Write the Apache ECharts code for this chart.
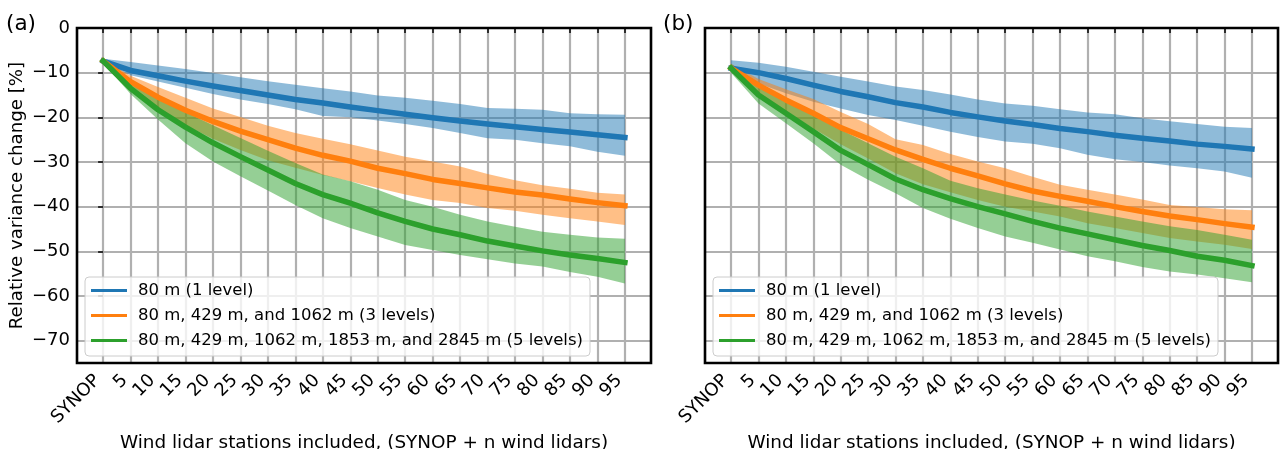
<!DOCTYPE html>
<html>
<head>
<meta charset="utf-8">
<script src="https://cdn.jsdelivr.net/npm/echarts@6/dist/echarts.min.js"></script>
<style>
  html, body { margin: 0; padding: 0; background: #fff; }
  #chart { width: 1280px; height: 449px; }
</style>
</head>
<body>
<div id="chart"></div>
<script>
// x categories and y ticks
const categories = ['SYNOP', '5', '10', '15', '20', '25', '30', '35', '40', '45',
  '50', '55', '60', '65', '70', '75', '80', '85', '90', '95'];
const yTicks = [-70, -60, -50, -40, -30, -20, -10, 0];
const legendNames = [
  '80 m (1 level)',
  '80 m, 429 m, and 1062 m (3 levels)',
  '80 m, 429 m, 1062 m, 1853 m, and 2845 m (5 levels)',
];

// panel (a): mean line, upper and lower band edges
const aBlue = [-7.4, -9.5, -10.7, -11.9, -13.0, -14.0, -15.0, -16.0, -16.8, -17.7, -18.5, -19.3, -20.1, -20.8, -21.5, -22.1, -22.7, -23.3, -23.9, -24.5];
const aBlueHi = [-6.9, -7.6, -8.4, -9.2, -10.1, -11.0, -11.9, -12.7, -13.5, -14.2, -15.1, -15.6, -16.3, -17.0, -17.9, -18.1, -18.3, -19.1, -19.3, -19.4];
const aBlueLo = [-7.9, -10.6, -12.0, -13.4, -14.8, -16.0, -17.0, -18.2, -19.7, -20.0, -20.7, -21.5, -22.4, -23.5, -24.7, -25.0, -25.8, -26.5, -27.7, -28.6];
const aOrange = [-7.4, -12.0, -15.5, -18.4, -20.9, -23.1, -25.0, -26.9, -28.5, -29.8, -31.4, -32.6, -33.9, -34.8, -35.8, -36.7, -37.4, -38.3, -39.1, -39.8];
const aOrangeHi = [-7.0, -10.7, -13.2, -15.6, -18.0, -19.9, -21.9, -23.5, -24.8, -26.0, -27.4, -28.8, -29.9, -31.0, -32.7, -34.1, -35.2, -36.0, -36.9, -37.3];
const aOrangeLo = [-7.8, -13.5, -18.0, -21.8, -24.8, -27.3, -29.6, -31.3, -32.9, -34.3, -35.8, -37.3, -38.5, -39.2, -40.3, -40.9, -41.8, -42.6, -43.3, -44.1];
const aGreen = [-7.4, -13.5, -18.3, -22.2, -25.7, -28.8, -31.8, -34.8, -37.3, -39.2, -41.4, -43.3, -45.0, -46.3, -47.7, -48.8, -49.9, -50.8, -51.6, -52.5];
const aGreenHi = [-7.0, -11.5, -15.5, -18.8, -21.8, -24.6, -27.5, -30.2, -32.8, -34.3, -36.2, -38.5, -40.0, -41.8, -43.3, -44.5, -45.6, -46.3, -46.9, -47.2];
const aGreenLo = [-7.8, -14.8, -20.5, -25.8, -29.9, -33.2, -36.4, -39.6, -42.6, -44.8, -46.7, -48.6, -49.7, -50.8, -51.8, -52.7, -53.4, -54.6, -55.7, -57.2];

// panel (b)
const bBlue = [-9.0, -10.0, -11.3, -12.8, -14.2, -15.4, -16.7, -17.7, -18.9, -19.9, -20.8, -21.6, -22.5, -23.2, -24.0, -24.7, -25.3, -26.0, -26.5, -27.1];
const bBlueHi = [-7.2, -7.8, -8.7, -9.8, -10.9, -12.0, -13.1, -13.9, -14.9, -16.0, -16.9, -17.4, -18.2, -18.9, -19.3, -20.2, -20.9, -21.5, -22.1, -22.4];
const bBlueLo = [-9.6, -12.4, -14.6, -16.5, -18.0, -19.5, -20.6, -21.9, -23.2, -24.4, -25.4, -25.9, -26.9, -28.4, -29.4, -30.0, -30.8, -31.4, -32.1, -33.5];
const bOrange = [-9.0, -12.8, -16.1, -19.1, -22.3, -24.8, -27.3, -29.4, -31.4, -33.1, -34.9, -36.5, -37.7, -38.8, -40.0, -41.1, -42.1, -42.9, -43.8, -44.6];
const bOrangeHi = [-8.0, -11.4, -13.7, -15.9, -18.8, -21.5, -24.9, -26.2, -28.2, -29.9, -31.4, -33.3, -35.1, -36.2, -37.3, -38.4, -39.6, -40.1, -40.6, -40.8];
const bOrangeLo = [-9.8, -14.5, -18.5, -22.5, -26.0, -29.2, -32.5, -35.0, -36.8, -38.5, -40.0, -41.1, -42.2, -43.7, -44.8, -45.9, -47.0, -47.8, -48.5, -49.5];
const bGreen = [-9.0, -15.0, -19.1, -23.2, -27.4, -30.6, -33.8, -36.2, -38.2, -40.0, -41.6, -43.3, -44.8, -46.1, -47.4, -48.7, -49.8, -51.1, -52.0, -53.2];
const bGreenHi = [-8.0, -12.4, -15.7, -19.1, -22.8, -25.8, -28.8, -31.4, -34.2, -35.9, -37.3, -38.6, -39.8, -41.1, -42.2, -43.3, -44.4, -45.2, -46.3, -47.4];
const bGreenLo = [-10.0, -16.9, -21.3, -25.8, -30.6, -34.0, -37.0, -40.3, -42.7, -44.8, -46.7, -48.1, -49.6, -51.1, -52.2, -53.5, -54.5, -55.2, -56.0, -56.9];

const colors = ['#1f77b4', '#ff7f0e', '#2ca02c'];
const bandColors = ['rgba(31,119,180,0.5)', 'rgba(255,127,14,0.5)', 'rgba(44,160,44,0.5)'];
const FONT = 'DejaVu Sans';
const tickIdx = categories.map((c, i) => i);

const myChart = echarts.init(document.getElementById('chart'), null, { renderer: 'canvas' });

// filled band between two edges
function band(g, hi, lo, color) {
  return {
    type: 'custom',
    xAxisIndex: g,
    yAxisIndex: g,
    z: 2,
    silent: true,
    data: hi.map((v, i) => [i, lo[i], v]),
    encode: { x: 0, y: [1, 2] },
    renderItem: (params, api) => {
      if (params.dataIndex !== 0) return;
      const pts = hi.map((v, i) => api.coord([i, v]))
        .concat(lo.map((v, i) => api.coord([i, v])).reverse());
      return { type: 'polygon', shape: { points: pts }, style: { fill: color } };
    },
  };
}

function line(g, k, vals) {
  return {
    name: legendNames[k],
    type: 'line',
    xAxisIndex: g,
    yAxisIndex: g,
    z: 3,
    symbol: 'none',
    silent: true,
    itemStyle: { color: colors[k] },
    lineStyle: { color: colors[k], width: 5.5, cap: 'square', join: 'round' },
    data: vals.map((v, i) => [i, v]),
  };
}

function xAxis(g) {
  return {
    type: 'value',
    gridIndex: g,
    min: -0.95,
    max: 19.95,
    axisLine: { show: false },
    axisTick: { show: true, length: 5, customValues: tickIdx, lineStyle: { color: '#000', width: 1.5 } },
    axisLabel: {
      customValues: tickIdx,
      rotate: 45,
      margin: 9,
      padding: [0, 8, 0, 0],
      fontSize: 18,
      fontFamily: FONT,
      color: '#000',
      formatter: (v) => categories[Math.round(v)],
    },
    splitLine: { show: true, lineStyle: { color: '#b0b0b0', width: 2.2 } },
    name: 'Wind lidar stations included, (SYNOP + n wind lidars)',
    nameLocation: 'middle',
    nameGap: 67,
    nameTextStyle: { fontSize: 18.4, fontFamily: FONT, color: '#000' },
  };
}

function yAxis(g) {
  const showLabels = g === 0;
  return {
    type: 'value',
    gridIndex: g,
    min: -75,
    max: 0,
    axisLine: { show: false },
    axisTick: { show: showLabels, length: 5, customValues: yTicks, lineStyle: { color: '#000', width: 1.5 } },
    axisLabel: {
      show: showLabels,
      customValues: yTicks,
      margin: 7,
      fontSize: 18,
      fontFamily: FONT,
      color: '#000',
      formatter: (v) => String(v).replace('-', '\u2212'),
    },
    splitLine: { show: true, lineStyle: { color: '#b0b0b0', width: 2.2 } },
    name: showLabels ? 'Relative variance change [%]' : '',
    nameLocation: 'middle',
    nameRotate: 90,
    nameGap: 51,
    nameTextStyle: { fontSize: 18.2, fontFamily: FONT, color: '#000' },
  };
}

function legend(left) {
  return {
    left: left,
    top: 277,
    orient: 'vertical',
    icon: 'rect',
    itemWidth: 36,
    itemHeight: 3,
    itemGap: 8,
    padding: [5, 7, 7, 6],
    backgroundColor: 'rgba(255,255,255,0.8)',
    borderColor: '#cccccc',
    borderWidth: 1,
    borderRadius: 4,
    selectedMode: false,
    data: legendNames,
    textStyle: { fontSize: 16.5, lineHeight: 16.5, fontFamily: FONT, color: '#000', padding: [0, 0, 0, 6] },
  };
}

const gridStyle = {
  show: true,
  z: 5,
  outerBoundsMode: 'none',
  containLabel: false,
  backgroundColor: 'transparent',
  borderColor: '#000',
  borderWidth: 2.6,
};

const titleStyle = { fontSize: 21.5, fontWeight: 'normal', fontFamily: FONT, color: '#000' };

const options = {
  animation: false,
  title: [
    { text: '(a)', left: 6, top: 13, padding: 0, textStyle: titleStyle },
    { text: '(b)', left: 663, top: 13, padding: 0, textStyle: titleStyle },
  ],
  grid: [
    Object.assign({ left: 77, top: 28, width: 574, height: 335 }, gridStyle),
    Object.assign({ left: 705, top: 28, width: 573, height: 335 }, gridStyle),
  ],
  xAxis: [xAxis(0), xAxis(1)],
  yAxis: [yAxis(0), yAxis(1)],
  legend: [legend(85), legend(713)],
  series: [
    band(0, aBlueHi, aBlueLo, bandColors[0]),
    band(0, aOrangeHi, aOrangeLo, bandColors[1]),
    band(0, aGreenHi, aGreenLo, bandColors[2]),
    line(0, 0, aBlue),
    line(0, 1, aOrange),
    line(0, 2, aGreen),
    band(1, bBlueHi, bBlueLo, bandColors[0]),
    band(1, bOrangeHi, bOrangeLo, bandColors[1]),
    band(1, bGreenHi, bGreenLo, bandColors[2]),
    line(1, 0, bBlue),
    line(1, 1, bOrange),
    line(1, 2, bGreen),
  ],
};

myChart.setOption(options);
</script>
</body>
</html>
